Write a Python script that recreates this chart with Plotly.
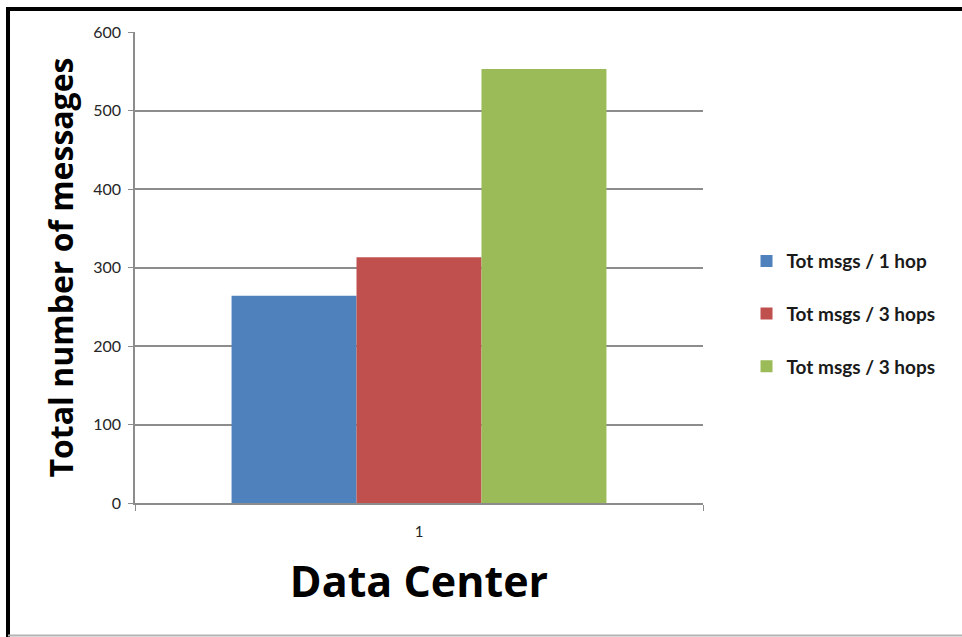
import plotly.graph_objects as go

# Chart data
categories = ["1"]
series_names = ["Tot msgs / 1 hop", "Tot msgs / 3 hops", "Tot msgs / 3 hops"]
series_values = [[264], [313], [553]]
series_colors = ["#4F81BD", "#C0504D", "#9BBB59"]
y_ticks = [0, 100, 200, 300, 400, 500, 600]

W, H = 962, 637
L, R, T, B = 135, 259, 32, 134
plot_w = W - L - R
plot_h = H - T - B


def px_x(x):
    return (x - L) / plot_w


def px_y(y):
    return (H - B - y) / plot_h


fig = go.Figure()
for i, (name, vals, col) in enumerate(zip(series_names, series_values, series_colors)):
    fig.add_trace(go.Bar(
        x=categories, y=vals, name=name, marker=dict(color=col, line=dict(width=0)),
        legendgroup=f"g{i}",
    ))

fig.update_layout(
    width=W, height=H,
    margin=dict(l=L, r=R, t=T, b=B, pad=0),
    paper_bgcolor="white", plot_bgcolor="white",
    barmode="group", bargap=0.34, bargroupgap=0,
    font=dict(family="Lato, Open Sans, sans-serif", size=15, color="#404040"),
    legend=dict(
        xref="container", yref="container", x=0.776, y=0.62,
        xanchor="left", yanchor="top",
        font=dict(family="Lato, sans-serif", size=19, color="#1a1a1a", weight="bold"),
        traceorder="grouped", tracegroupgap=25, itemwidth=30,
        bgcolor="rgba(0,0,0,0)",
    ),
    showlegend=True,
)

fig.update_xaxes(
    type="category", range=[-0.5, 0.5],
    showline=True, linecolor="#8c8c8c", linewidth=1.5,
    ticks="outside", tickson="boundaries", ticklen=6, tickcolor="#8c8c8c",
    ticklabelstandoff=14,
    tickfont=dict(size=15, color="#262626"),
    showgrid=False, zeroline=False,
    title=dict(text="<b>Data Center</b>", font=dict(family="Open Sans, sans-serif", size=43, color="#000000"), standoff=28),
)
fig.update_yaxes(
    range=[0, 600], tickvals=y_ticks,
    showline=True, linecolor="#8c8c8c", linewidth=1.5,
    ticks="outside", ticklen=5, tickcolor="#8c8c8c",
    ticklabelstandoff=4,
    tickfont=dict(size=16, color="#262626"),
    showgrid=True, gridcolor="#8c8c8c", gridwidth=1.5,
    zeroline=False,
    title=dict(text="<b>Total number of messages</b>", font=dict(family="Open Sans, sans-serif", size=32, color="#000000"), standoff=10),
)

# Frame lines around the chart
fig.add_shape(type="line", xref="paper", yref="paper",
              x0=px_x(6), x1=px_x(W + 2), y0=px_y(9), y1=px_y(9),
              line=dict(color="black", width=4))
fig.add_shape(type="line", xref="paper", yref="paper",
              x0=px_x(8), x1=px_x(8), y0=px_y(7), y1=px_y(H + 2),
              line=dict(color="black", width=4))
fig.add_shape(type="line", xref="paper", yref="paper",
              x0=px_x(8), x1=px_x(W + 2), y0=px_y(635.5), y1=px_y(635.5),
              line=dict(color="#b4b4b4", width=2))

fig.write_html("out.html")
